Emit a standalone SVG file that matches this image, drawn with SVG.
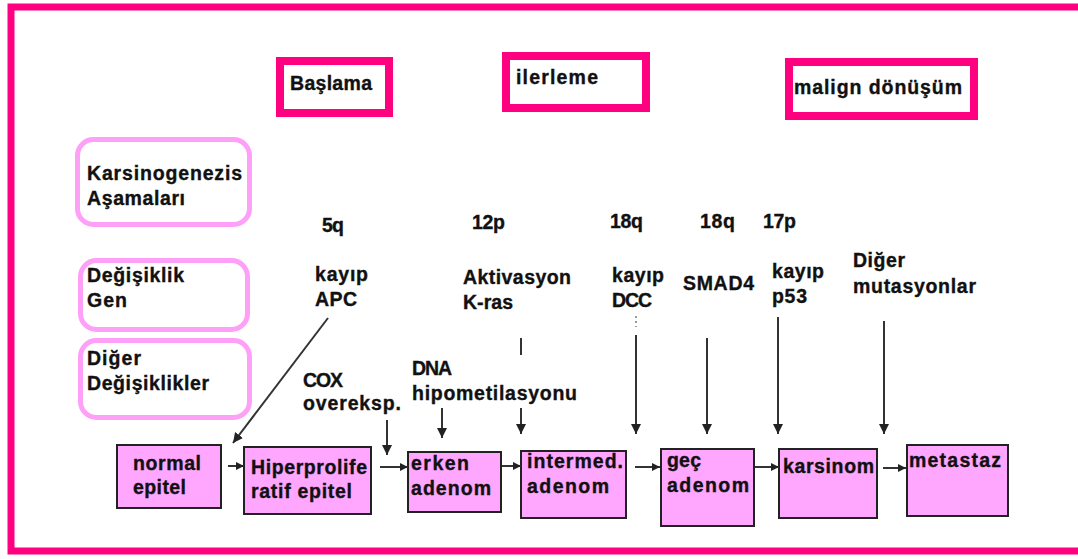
<svg xmlns="http://www.w3.org/2000/svg" width="1078" height="559" viewBox="0 0 1078 559">
<defs>
<style>
.frame{fill:none;stroke:#FF0080;stroke-width:7}
.phase{fill:#fff;stroke:#FF0080;stroke-width:8}
.cat{fill:#fff;stroke:#FFA0F8;stroke-width:5}
.stage{fill:#FFA6FF;stroke:#222;stroke-width:2}
.t{font-family:"Liberation Sans",Arial,sans-serif;font-weight:bold;font-size:19.5px;fill:#111;stroke:#111;stroke-width:0.35}
.c{stroke:#333;stroke-width:2;fill:none}
.v{marker-end:url(#ah)}
.h{marker-end:url(#hs)}
</style>
<marker id="ah" markerUnits="userSpaceOnUse" markerWidth="10" markerHeight="11" refX="10" refY="5" orient="auto" viewBox="0 0 10 10">
<path d="M0,0 L10,5 L0,10 z" fill="#222"/>
</marker>
<marker id="hs" markerUnits="userSpaceOnUse" markerWidth="9" markerHeight="8" refX="10" refY="5" orient="auto" viewBox="0 0 10 10">
<path d="M0,0 L10,5 L0,10 z" fill="#222"/>
</marker>
</defs>
<rect width="1078" height="559" fill="#fff"/>
<path class="frame" d="M1078 7 H11 V551 H1078"/>

<g id="baslama"><rect class="phase" x="280" y="61" width="109" height="52"/><text class="t" x="290" y="90" textLength="82" lengthAdjust="spacing">Başlama</text></g>
<g id="ilerleme"><rect class="phase" x="506" y="56" width="140" height="52"/><text class="t" x="516" y="84" textLength="82" lengthAdjust="spacing">ilerleme</text></g>
<g id="malign"><rect class="phase" x="789" y="62" width="185" height="54"/><text class="t" x="794" y="94" textLength="168" lengthAdjust="spacing">malign dönüşüm</text></g>

<g id="asamalar"><rect class="cat" x="77.5" y="139.5" width="172" height="85" rx="16"/><text class="t" x="87" y="180" textLength="155" lengthAdjust="spacing">Karsinogenezis</text><text class="t" x="87" y="205" textLength="98" lengthAdjust="spacing">Aşamaları</text></g>
<g id="degisiklik-gen"><rect class="cat" x="80.5" y="260.5" width="167" height="69" rx="16"/><text class="t" x="87" y="282" textLength="97" lengthAdjust="spacing">Değişiklik</text><text class="t" x="87" y="307" textLength="40" lengthAdjust="spacing">Gen</text></g>
<g id="diger-degisiklikler"><rect class="cat" x="80.5" y="340.5" width="169" height="77" rx="16"/><text class="t" x="87" y="365" textLength="54" lengthAdjust="spacing">Diğer</text><text class="t" x="87" y="390" textLength="122" lengthAdjust="spacing">Değişiklikler</text></g>

<g id="apc"><text class="t" x="322" y="232" textLength="22" lengthAdjust="spacing">5q</text><text class="t" x="315" y="281" textLength="53" lengthAdjust="spacing">kayıp</text><text class="t" x="315" y="306" textLength="42" lengthAdjust="spacing">APC</text></g>
<g id="kras"><text class="t" x="472" y="229" textLength="33" lengthAdjust="spacing">12p</text><text class="t" x="463" y="284" textLength="108" lengthAdjust="spacing">Aktivasyon</text><text class="t" x="463" y="309" textLength="50" lengthAdjust="spacing">K-ras</text></g>
<g id="dcc"><text class="t" x="610" y="228" textLength="33" lengthAdjust="spacing">18q</text><text class="t" x="612" y="282" textLength="52" lengthAdjust="spacing">kayıp</text><text class="t" x="612" y="307" textLength="40" lengthAdjust="spacing">DCC</text></g>
<g id="smad4"><text class="t" x="700" y="228" textLength="35" lengthAdjust="spacing">18q</text><text class="t" x="683" y="290" textLength="71" lengthAdjust="spacing">SMAD4</text></g>
<g id="p53"><text class="t" x="763" y="228" textLength="33" lengthAdjust="spacing">17p</text><text class="t" x="772" y="278" textLength="52" lengthAdjust="spacing">kayıp</text><text class="t" x="772" y="303" textLength="35" lengthAdjust="spacing">p53</text></g>
<g id="diger-mut"><text class="t" x="853" y="267" textLength="52" lengthAdjust="spacing">Diğer</text><text class="t" x="853" y="293" textLength="123" lengthAdjust="spacing">mutasyonlar</text></g>
<g id="cox"><text class="t" x="303" y="387" textLength="40" lengthAdjust="spacing">COX</text><text class="t" x="303" y="410" textLength="98" lengthAdjust="spacing">overeksp.</text></g>
<g id="dna"><text class="t" x="412" y="375" textLength="40" lengthAdjust="spacing">DNA</text><text class="t" x="412" y="400" textLength="165" lengthAdjust="spacing">hipometilasyonu</text></g>

<g id="normal"><rect class="stage" x="117" y="445" width="104" height="63"/><text class="t" x="133" y="470" textLength="68" lengthAdjust="spacing">normal</text><text class="t" x="133" y="494" textLength="53" lengthAdjust="spacing">epitel</text></g>
<g id="hiper"><rect class="stage" x="244" y="447" width="127" height="67"/><text class="t" x="251" y="474" textLength="116" lengthAdjust="spacing">Hiperprolife</text><text class="t" x="251" y="498" textLength="101" lengthAdjust="spacing">ratif epitel</text></g>
<g id="erken"><rect class="stage" x="408" y="452" width="93" height="60"/><text class="t" x="411" y="470" textLength="58" lengthAdjust="spacing">erken</text><text class="t" x="411" y="495" textLength="80" lengthAdjust="spacing">adenom</text></g>
<g id="intermed"><rect class="stage" x="521" y="451" width="105" height="67"/><text class="t" x="527" y="468" textLength="96" lengthAdjust="spacing">intermed.</text><text class="t" x="527" y="493" textLength="82" lengthAdjust="spacing">adenom</text></g>
<g id="gec"><rect class="stage" x="661" y="449" width="93" height="77"/><text class="t" x="667" y="467" textLength="34" lengthAdjust="spacing">geç</text><text class="t" x="667" y="492" textLength="82" lengthAdjust="spacing">adenom</text></g>
<g id="karsinom"><rect class="stage" x="779" y="449" width="98" height="69"/><text class="t" x="783" y="473" textLength="91" lengthAdjust="spacing">karsinom</text></g>
<g id="metastaz"><rect class="stage" x="907" y="445" width="101" height="71"/><text class="t" x="909" y="467" textLength="92" lengthAdjust="spacing">metastaz</text></g>

<g id="connectors">
<line class="c v" x1="328" y1="318" x2="233" y2="443"/>
<line class="c v" x1="387" y1="420" x2="387" y2="455"/>
<line class="c v" x1="442" y1="408" x2="442" y2="438"/>
<line class="c" x1="521" y1="338" x2="521" y2="355"/>
<line class="c v" x1="521" y1="408" x2="521" y2="434"/>
<line x1="636" y1="316" x2="636" y2="327" stroke="#999" stroke-width="2" stroke-dasharray="2 3"/>
<line class="c v" x1="636" y1="335" x2="636" y2="434"/>
<line class="c v" x1="707" y1="338" x2="707" y2="434"/>
<line class="c v" x1="778" y1="317" x2="778" y2="434"/>
<line class="c v" x1="884" y1="321" x2="884" y2="434"/>
<line class="c h" x1="228" y1="466" x2="244" y2="466"/>
<line class="c h" x1="380" y1="467" x2="408" y2="467"/>
<line class="c h" x1="502" y1="466" x2="521" y2="466"/>
<line class="c h" x1="635" y1="467" x2="660" y2="467"/>
<line class="c h" x1="755" y1="467" x2="779" y2="467"/>
<line class="c h" x1="883" y1="468" x2="906" y2="468"/>
</g>
</svg>
